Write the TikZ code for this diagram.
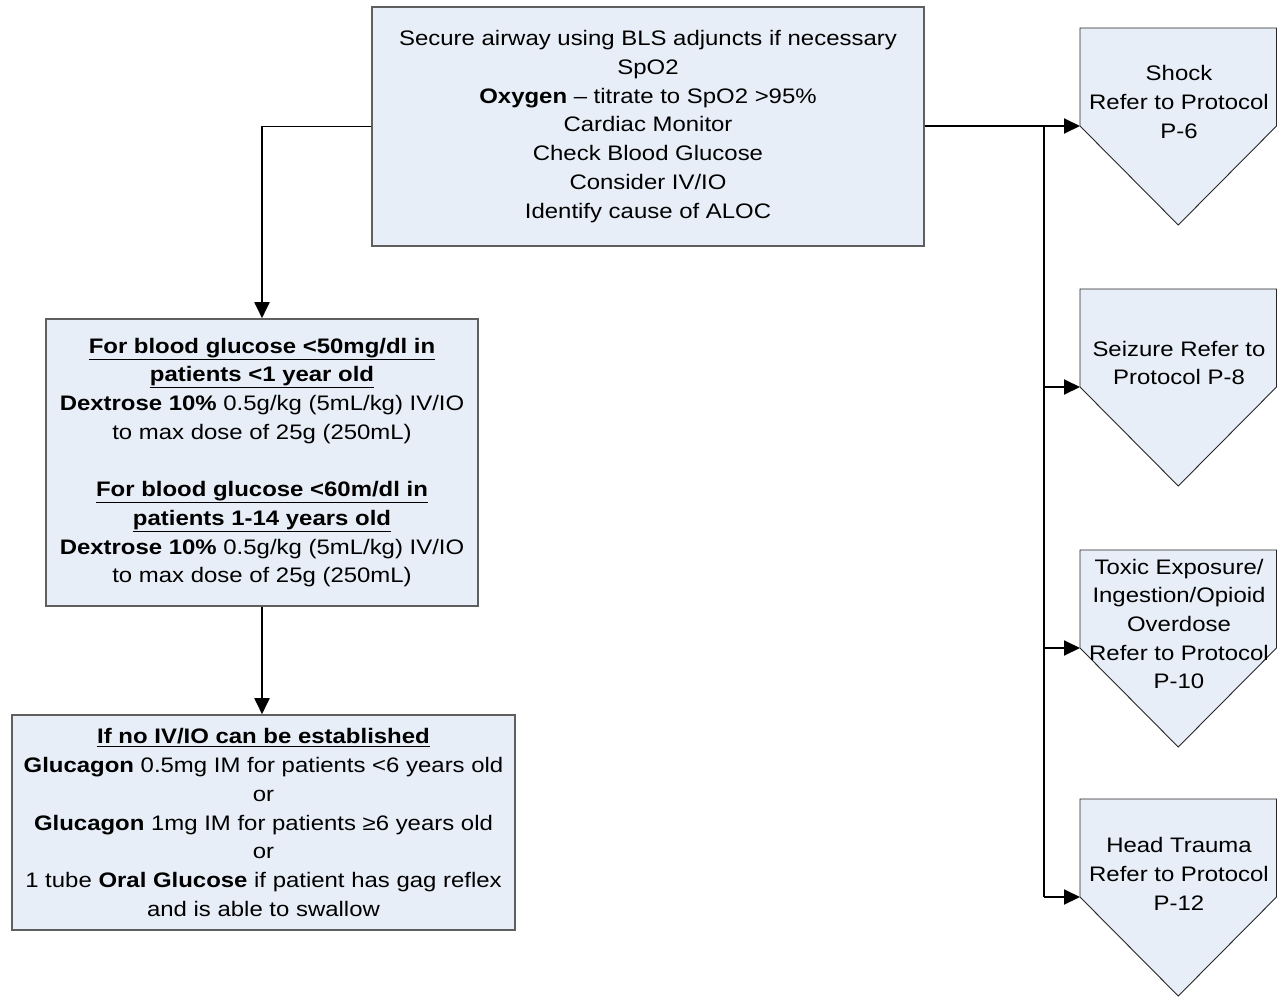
\documentclass[tikz,border=0pt]{standalone}
\usepackage{fontspec}
\setmainfont{Liberation Sans}[FakeStretch=1.14]
\usetikzlibrary{arrows.meta}
\definecolor{boxfill}{HTML}{E8EEF7}
\definecolor{boxline}{HTML}{5F5F5F}
\begin{document}
\begin{tikzpicture}[x=1pt,y=-1pt,
  txt/.style={font=\fontsize{21}{28.7}\selectfont},
  procbox/.style={draw=boxline,line width=1.6pt,fill=boxfill,txt,align=center,inner sep=0pt},
  offp/.style={draw=black!85,line width=0.9pt,fill=boxfill},
  lbl/.style={txt,align=center,inner sep=0pt},
  conn/.style={draw=black,line width=1.9pt},
  arr/.style={conn,-{Triangle[length=16pt,width=15pt]}}]
\useasboundingbox (0,0) rectangle (1277,996);

% main boxes
\node[procbox,minimum width=552pt,minimum height=239pt] (top) at (648,126.5)
 {Secure airway using BLS adjuncts if necessary\\SpO2\\\textbf{Oxygen} -- titrate to SpO2 >95\%\\Cardiac Monitor\\Check Blood Glucose\\Consider IV/IO\\Identify cause of ALOC};

\node[procbox,minimum width=432pt,minimum height=287pt] (dex) at (262,462.5)
 {\textbf{\underline{For blood glucose <50mg/dl in}}\\\textbf{\underline{patients <1 year old}}\\\textbf{Dextrose 10\%} 0.5g/kg (5mL/kg) IV/IO\\to max dose of 25g (250mL)\\[28.7pt]\textbf{\underline{For blood glucose <60m/dl in}}\\\textbf{\underline{patients 1-14 years old}}\\\textbf{Dextrose 10\%} 0.5g/kg (5mL/kg) IV/IO\\to max dose of 25g (250mL)};

\node[procbox,minimum width=503pt,minimum height=215pt] (glu) at (263.5,822.5)
 {\textbf{\underline{If no IV/IO can be established}}\\\textbf{Glucagon} 0.5mg IM for patients <6 years old\\or\\\textbf{Glucagon} 1mg IM for patients ≥6 years old\\or\\1 tube \textbf{Oral Glucose} if patient has gag reflex\\and is able to swallow};

% off-page reference shapes
\newcommand{\offpageshape}[4]{%
  \draw[offp] (1080,#2) -- (1276.5,#2) -- (1276.5,#2+98) -- (1178.25,#2+197) -- (1080,#2+98) -- cycle;
  \coordinate (#1-in) at (1080,#2+98);
  \node[lbl] (#1) at (1179,#2+#3) {#4};}
\offpageshape{shock}{28}{74}{Shock\\Refer to Protocol\\P-6}
\offpageshape{seiz}{289}{74}{Seizure Refer to\\Protocol P-8}
\offpageshape{tox}{550}{74}{Toxic Exposure/\\Ingestion/Opioid\\Overdose\\Refer to Protocol\\P-10}
\offpageshape{head}{799}{75}{Head Trauma\\Refer to Protocol\\P-12}

% connectors
\draw[arr] (top.west) -| (dex.north);
\draw[arr] (dex.south) -- (dex.south |- glu.north);
\draw[arr] (top.east |- shock-in) -- (shock-in);
\coordinate (trunk) at (1044,126);
\draw[conn] (trunk) -- (trunk |- head-in);
\draw[arr] (trunk |- head-in) -- (head-in);
\draw[arr] (trunk |- seiz-in) -- (seiz-in);
\draw[arr] (trunk |- tox-in) -- (tox-in);
\end{tikzpicture}
\end{document}
